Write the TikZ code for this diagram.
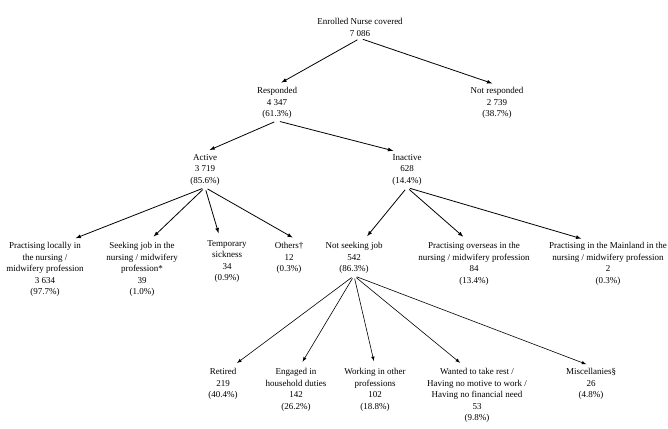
\documentclass[tikz,border=0pt]{standalone}
\usepackage{fontspec}
\setmainfont{Liberation Serif}
\begin{document}
\begin{tikzpicture}[x=1pt,y=-1pt,
  n/.style={anchor=north,align=center,inner sep=2pt,font=\fontsize{9}{11.6}\selectfont},
  a/.style={-latex,thick,shorten >=5pt,shorten <=3pt},
  b/.style={-latex,semithick,shorten >=5pt,shorten <=3pt}]
\useasboundingbox (0,0) rectangle (668,428);
\node[n] (root) at (360,16) {Enrolled Nurse covered\\7 086};
\node[n] (resp) at (277,85) {Responded\\4 347\\(61.3\%)};
\node[n] (nresp) at (497,85) {Not responded\\2 739\\(38.7\%)};
\node[n] (act) at (205,152) {Active\\3 719\\(85.6\%)};
\node[n] (inact) at (407,152) {Inactive\\628\\(14.4\%)};
\node[n] (pl) at (45,240) {Practising locally in\\the nursing /\\midwifery profession\\3 634\\(97.7\%)};
\node[n] (sj) at (142,240) {Seeking job in the\\nursing / midwifery\\profession*\\39\\(1.0\%)};
\node[n] (ts) at (227,238) {Temporary\\sickness\\34\\(0.9\%)};
\node[n] (ot) at (289,240) {Others\textdagger\\12\\(0.3\%)};
\node[n] (ns) at (354,240) {Not seeking job\\542\\(86.3\%)};
\node[n] (po) at (474,240) {Practising overseas in the\\nursing / midwifery profession\\84\\(13.4\%)};
\node[n] (pm) at (608,240) {Practising in the Mainland in the\\nursing / midwifery profession\\2\\(0.3\%)};
\node[n] (re) at (223,366) {Retired\\219\\(40.4\%)};
\node[n] (en) at (296,366) {Engaged in\\household duties\\142\\(26.2\%)};
\node[n] (wo) at (375,366) {Working in other\\professions\\102\\(18.8\%)};
\node[n] (wa) at (477,366) {Wanted to take rest /\\Having no motive to work /\\Having no financial need\\53\\(9.8\%)};
\node[n] (mi) at (591,366) {Miscellanies\S\\26\\(4.8\%)};
\draw[a] (root.south) -- (resp.north);
\draw[a] (root.south) -- (nresp.north);
\draw[a] (resp.south) -- (act.north);
\draw[a] (resp.south) -- (inact.north-|398,0);
\draw[a] (act.south) -- (pl.north-|71,0);
\draw[a] (act.south) -- (sj.north-|150,0);
\draw[a] (act.south) -- (ts.north-|220,0);
\draw[a] (act.south) -- (ot.north-|297,0);
\draw[a] (inact.south) -- (ns.north-|364,0);
\draw[a] (inact.south) -- (po.north-|467,0);
\draw[a] (inact.south) -- (pm.north-|586,0);
\draw[b] (ns.south) -- (re.north-|233,0);
\draw[b] (ns.south) -- (en.north-|300,0);
\draw[b] (ns.south) -- (wo.north);
\draw[b] (ns.south) -- (wa.north-|464,0);
\draw[b] (ns.south) -- (mi.north);
\end{tikzpicture}
\end{document}
